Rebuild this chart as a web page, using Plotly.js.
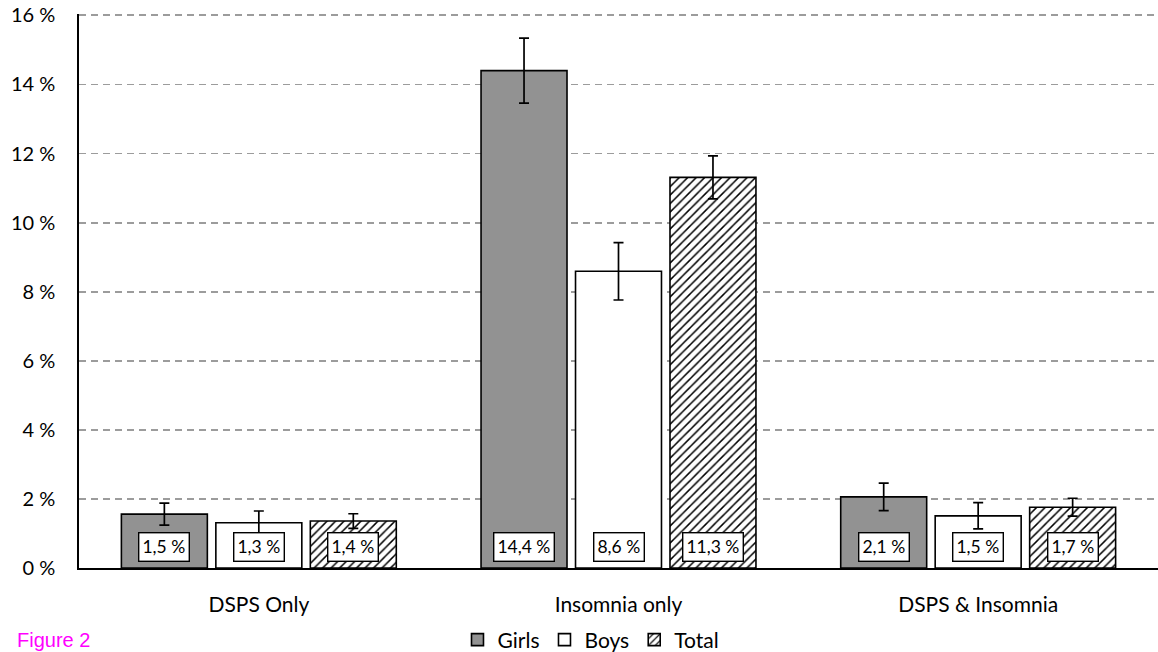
<!DOCTYPE html>
<html>
<head>
<meta charset="utf-8">
<script src="https://cdn.plot.ly/plotly-3.0.1.min.js"></script>
<style>html,body{margin:0;padding:0;background:#fff;overflow:hidden;}#chart{width:1158px;height:652px;}</style>
</head>
<body>
<div id="chart"></div>
<script>
const categories = ["DSPS Only", "Insomnia only", "DSPS & Insomnia"];
const girls = [1.56, 14.4, 2.06];
const boys = [1.31, 8.59, 1.51];
const total = [1.36, 11.31, 1.76];
const girlsErr = [0.32, 0.94, 0.40];
const boysErr = [0.34, 0.83, 0.38];
const totalErr = [0.21, 0.62, 0.26];
const girlsLabels = ["1,5 %", "14,4 %", "2,1 %"];
const boysLabels = ["1,3 %", "8,6 %", "1,5 %"];
const totalLabels = ["1,4 %", "11,3 %", "1,7 %"];
const yTicks = [0, 2, 4, 6, 8, 10, 12, 14, 16];

const FONT = "Lato, 'Open Sans', sans-serif";
const bargap = 0.212, bargroupgap = 0.09;

function errBar(arr) {
  return {type: 'data', array: arr, visible: true, color: '#000', thickness: 1.7, width: 5};
}
const common = {type: 'bar', x: categories, hoverinfo: 'none'};

const traces = [
  Object.assign({}, common, {name: 'Girls', y: girls, error_y: errBar(girlsErr),
    marker: {color: '#929292', line: {color: '#000', width: 1.6}}}),
  Object.assign({}, common, {name: 'Boys', y: boys, error_y: errBar(boysErr),
    marker: {color: '#ffffff', line: {color: '#000', width: 1.6}}}),
  Object.assign({}, common, {name: 'Total', y: total, error_y: errBar(totalErr),
    marker: {color: '#ffffff', line: {color: '#000', width: 1.6},
      pattern: {shape: '/', fgcolor: '#000', bgcolor: '#ffffff', size: 6, solidity: 0.25}}})
];

const slot = (1 - bargap) / 3;
const annotations = [];
[girlsLabels, boysLabels, totalLabels].forEach((labs, k) => {
  labs.forEach((t, i) => {
    annotations.push({
      x: i + (k - 1) * slot, y: 0, xref: 'x', yref: 'y',
      text: t, showarrow: false, yanchor: 'bottom', yshift: 6,
      bgcolor: '#fff', bordercolor: '#000', borderwidth: 1.4, borderpad: 3,
      font: {family: FONT, size: 17.5, color: '#000'}
    });
  });
});
annotations.push({
  xref: 'paper', yref: 'paper', x: -0.059, y: -0.107, xanchor: 'left', yanchor: 'top',
  text: 'Figure 2', showarrow: false,
  font: {family: "'Liberation Sans', Arial, sans-serif", size: 20, color: '#ff00ff'}
});

const layout = {
  width: 1158, height: 652,
  margin: {l: 79, r: 0, t: 14, b: 84, pad: 0, autoexpand: false},
  paper_bgcolor: '#fff', plot_bgcolor: '#fff',
  barmode: 'group', bargap: bargap, bargroupgap: bargroupgap,
  font: {family: FONT, size: 20, color: '#000'},
  showlegend: true,
  legend: {orientation: 'h', x: 0.4745, xanchor: 'center', y: -0.130, yanchor: 'middle',
    font: {family: FONT, size: 21, color: '#000'}, itemwidth: 30, traceorder: 'normal',
    bgcolor: 'rgba(0,0,0,0)'},
  xaxis: {type: 'category', showline: true, linecolor: '#000', linewidth: 1.7,
    ticks: '', showgrid: false, zeroline: false, ticklabelstandoff: 17, automargin: false,
    tickfont: {family: FONT, size: 21, color: '#000'}, fixedrange: true},
  yaxis: {range: [0, 16.04], tickvals: yTicks, ticktext: yTicks.map(v => v + ' %'),
    showline: true, linecolor: '#000', linewidth: 1.7, ticks: '', automargin: false,
    showgrid: true, gridcolor: '#9c9c9c', gridwidth: 1.8, griddash: '7px,5px',
    zeroline: false, ticklabelstandoff: 18,
    tickfont: {family: FONT, size: 20, color: '#000'}, fixedrange: true},
  annotations: annotations
};

Plotly.newPlot('chart', traces, layout, {displayModeBar: false, staticPlot: true});
</script>
</body>
</html>
